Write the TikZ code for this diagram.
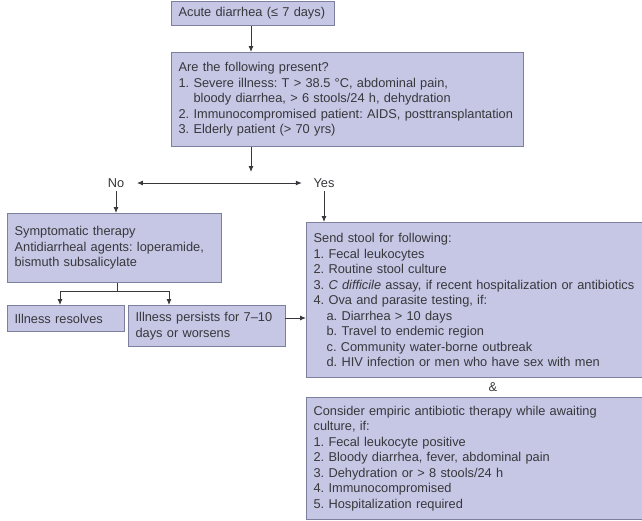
\documentclass[tikz,border=0pt]{standalone}
\usepackage{fontspec}
\setmainfont{Liberation Sans}
\usetikzlibrary{arrows.meta}
\definecolor{boxfill}{RGB}{198,199,228}
\definecolor{boxline}{RGB}{125,127,158}
\definecolor{inkgray}{RGB}{55,55,60}
\newcommand{\txtsize}{\fontsize{12.8pt}{15.5pt}\selectfont\frenchspacing\hyphenpenalty=10000}

\begin{document}
\begin{tikzpicture}[x=1pt,y=-1pt,>={Latex[length=6pt,width=5pt]},
	color=inkgray,line width=0.9pt,
	box/.style={draw=boxline,fill=boxfill,line width=1.2pt,anchor=north west,align=left,
		inner xsep=7pt,inner ysep=0pt,text=inkgray,font=\txtsize},
	lbl/.style={text=inkgray,font=\txtsize}]
	\useasboundingbox (0,0) rectangle (642,520);
	\clip (0,0) rectangle (642,520);
	% boxes
	\node[box,text width=149pt,minimum height=24pt] (acute) at (171,1) {Acute diarrhea (≤ 7 days)};
	\node[box,text width=338pt,minimum height=94pt] (quest) at (171,52) {Are the following present?\\
		1. Severe illness: T > 38.5 °C, abdominal pain,\\
		\hphantom{1. }bloody diarrhea, > 6 stools/24 h, dehydration\\
		2. Immunocompromised patient: AIDS, posttransplantation\\
		3. Elderly patient (> 70 yrs)};
	\node[lbl] (no) at (116,183) {No};
	\node[lbl] (yes) at (324,183) {Yes};
	\node[box,text width=200pt,minimum height=69pt] (sympt) at (7,213) {Symptomatic therapy\\
		Antidiarrheal agents: loperamide,\\
		bismuth subsalicylate};
	\node[box,text width=103pt,minimum height=26pt] (resolve) at (7,305) {Illness resolves};
	\node[box,text width=143pt,minimum height=41pt] (persist) at (128,305) {Illness persists for 7–10\\days or worsens};
	\node[box,text width=360pt,minimum height=155pt] (stool) at (306,222) {Send stool for following:\\
		1. Fecal leukocytes\\
		2. Routine stool culture\\
		3. \textit{C difficile} assay, if recent hospitalization or antibiotics\\
		4. Ova and parasite testing, if:\\
		\hspace*{13pt}a. Diarrhea > 10 days\\
		\hspace*{13pt}b. Travel to endemic region\\
		\hspace*{13pt}c. Community water-borne outbreak\\
		\hspace*{13pt}d. HIV infection or men who have sex with men};
	\node[lbl] (amp) at (493,387) {\&};
	\node[box,text width=360pt,minimum height=122pt] (empiric) at (306,397) {Consider empiric antibiotic therapy while awaiting\\
		culture, if:\\
		1. Fecal leukocyte positive\\
		2. Bloody diarrhea, fever, abdominal pain\\
		3. Dehydration or > 8 stools/24 h\\
		4. Immunocompromised\\
		5. Hospitalization required};
	% connectors
	\coordinate (fork) at (251,172);
	\coordinate (split) at (117,291);
	\coordinate (brL) at (60,291);
	\coordinate (brR) at (169,291);
	\coordinate (p1) at (285,318);
	\draw[->] (acute.south -| fork) -- (fork |- quest.north);
	\draw[->] (quest.south -| fork) -- (fork);
	\draw[<->,shorten <=9pt,shorten >=8pt] (no) -- (yes);
	\draw[->] (no) -- (no |- sympt.north);
	\draw[->] (yes) -- (yes |- stool.north);
	\draw (sympt.south -| split) -- (split);
	\draw (brL) -- (brR);
	\draw[->] (brL) -- (brL |- resolve.north);
	\draw[->] (brR) -- (brR |- persist.north);
	\draw[->] (p1) -- (p1 -| stool.west);
\end{tikzpicture}
\end{document}
